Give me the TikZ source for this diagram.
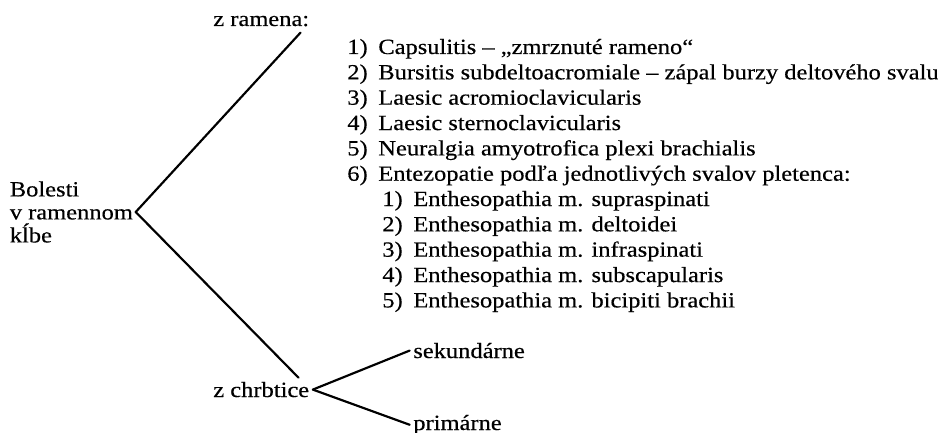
\documentclass[tikz,border=0pt]{standalone}
\usepackage{fontspec}
\setmainfont{Liberation Serif}[FakeStretch=1.13,FakeBold=0.4]
\begin{document}
\begin{tikzpicture}[x=0.6pt,y=-0.6pt,line cap=round,line join=round,
  txt/.style={inner sep=0pt,font=\fontsize{13}{13.8}\selectfont},
  item/.style={txt,anchor=base west},
  branch/.style={line width=1.3pt}]
\useasboundingbox (0,0) rectangle (938,433);
% vetvy stromu
\node[txt,align=left,anchor=west,inner xsep=1.5pt] (root) at (7,212) {Bolesti\\v ramennom\\kĺbe};
\node[item] (ramena) at (213,26) {z ramena:};
\node[item] (chrb) at (213,397) {z chrbtice};
\node[item] (sek) at (413,358) {sekundárne};
\node[item] (prim) at (413,430) {primárne};
\draw[branch] (root.east) -- ([shift={(-9,6)}]ramena.south east);
\draw[branch] (root.east) -- ([shift={(-11,-4)}]chrb.north east);
\draw[branch] ([xshift=2pt]chrb.east) -- ([xshift=-2pt]sek.west);
\draw[branch] ([xshift=2pt]chrb.east) -- ([xshift=-2pt]prim.west);
% zoznam
\foreach \t [count=\i] in {{Capsulitis – „zmrznuté rameno“},
  {Bursitis subdeltoacromiale – zápal burzy deltového svalu},
  {Laesic acromioclavicularis},{Laesic sternoclavicularis},
  {Neuralgia amyotrofica plexi brachialis},
  {Entezopatie podľa jednotlivých svalov pletenca:}}
  \node[item] (i\i) at (347,{54+25.35*(\i-1)}) {\makebox[18.6pt][l]{\i)}\t};
\foreach \t [count=\i] in {{Enthesopathia m. supraspinati},
  {Enthesopathia m. deltoidei},{Enthesopathia m. infraspinati},
  {Enthesopathia m. subscapularis},{Enthesopathia m. bicipiti brachii}}
  \node[item] (s\i) at (382,{206+25.35*(\i-1)}) {\makebox[18.6pt][l]{\i)}\t};
\end{tikzpicture}
\end{document}
